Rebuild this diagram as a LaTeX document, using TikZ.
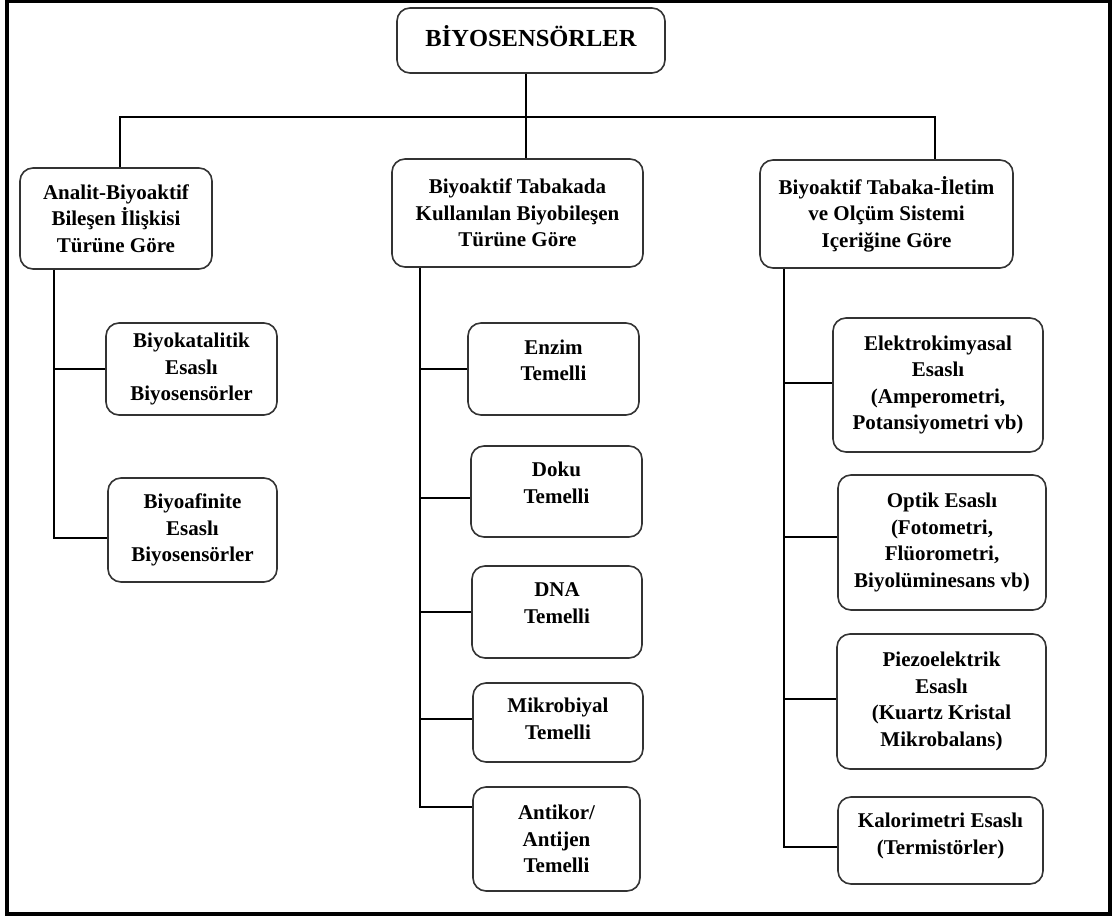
\documentclass[tikz,border=0pt]{standalone}
\usepackage{fontspec}
\setmainfont{Liberation Serif}
\usepackage{tikz}

\begin{document}
\begin{tikzpicture}[x=1pt,y=-1pt,
  kutu/.style={draw=black!80,line width=1.6pt,rounded corners=13pt,align=center,
    font=\fontsize{21}{26.5}\selectfont\bfseries},
  hat/.style={line width=1.5pt}]
\useasboundingbox (0,0) rectangle (1115,917);
\draw[line width=4pt] (6.5,1.5) rectangle (1110,914);

\node[kutu,minimum width=268pt,minimum height=65pt,text depth=9pt,
  font=\fontsize{24.5}{29}\selectfont\bfseries] (kok) at (531,40.5) {BİYOSENSÖRLER};

\node[kutu,minimum width=192pt,minimum height=101pt] (a) at (116,218.5)
  {Analit-Biyoaktif\\Bileşen İlişkisi\\Türüne Göre};
\node[kutu,minimum width=251pt,minimum height=108pt] (b) at (517.5,213)
  {Biyoaktif Tabakada\\Kullanılan Biyobileşen\\Türüne Göre};
\node[kutu,minimum width=253pt,minimum height=108pt] (c) at (886.5,214)
  {Biyoaktif Tabaka-İletim\\ve Olçüm Sistemi\\Içeriğine Göre};

\node[kutu,minimum width=171pt,minimum height=92pt] (a1) at (191.5,369)
  {Biyokatalitik\\Esaslı\\Biyosensörler};
\node[kutu,minimum width=169pt,minimum height=104pt] (a2) at (192.5,530)
  {Biyoafinite\\Esaslı\\Biyosensörler};

\node[kutu,minimum width=171pt,minimum height=92pt] (b1) at (553.5,369)
  {Enzim\\Temelli\\[-9pt]\mbox{}};
\node[kutu,minimum width=171pt,minimum height=91pt] (b2) at (556.5,491.5)
  {Doku\\Temelli\\[-9pt]\mbox{}};
\node[kutu,minimum width=170pt,minimum height=92pt] (b3) at (557,612)
  {DNA\\Temelli\\[-9pt]\mbox{}};
\node[kutu,minimum width=170pt,minimum height=79pt] (b4) at (558,722.5)
  {Mikrobiyal\\Temelli\\[-18.5pt]\mbox{}};
\node[kutu,minimum width=167pt,minimum height=104pt] (b5) at (556.5,839)
  {Antikor/\\Antijen\\Temelli};

\node[kutu,minimum width=210pt,minimum height=134pt] (c1) at (938,385)
  {Elektrokimyasal\\Esaslı\\(Amperometri,\\Potansiyometri vb)};
\node[kutu,minimum width=208pt,minimum height=135pt] (c2) at (942,542.5)
  {Optik Esaslı\\(Fotometri,\\Flüorometri,\\Biyolüminesans vb)};
\node[kutu,minimum width=209pt,minimum height=135pt] (c3) at (941.5,701.5)
  {Piezoelektrik\\Esaslı\\(Kuartz Kristal\\Mikrobalans)};
\node[kutu,minimum width=205pt,minimum height=87pt] (c4) at (940.5,840.5)
  {Kalorimetri Esaslı\\(Termistörler)\\[-12.5pt]\mbox{}};

\coordinate (bus) at (0,117);
\draw[hat] ([xshift=-5pt]kok.south) -- ([xshift=-5pt]kok.south |- b.north);
\draw[hat] ([xshift=4pt]a.north) |- ([xshift=48.5pt]c.north |- bus) -- ([xshift=48.5pt]c.north);

\coordinate (ta) at ([xshift=35pt]a.south west);
\draw[hat] (ta) |- (a1.west);
\draw[hat] (ta) |- ([yshift=-8pt]a2.west);

\coordinate (tb) at ([xshift=29pt]b.south west);
\draw[hat] (tb) |- (b1.west);
\draw[hat] (tb) |- ([yshift=-6.5pt]b2.west);
\draw[hat] (tb) |- (b3.west);
\draw[hat] (tb) |- ([yshift=3.5pt]b4.west);
\draw[hat] (tb) |- ([yshift=32pt]b5.west);

\coordinate (tc) at ([xshift=25pt]c.south west);
\draw[hat] (tc) |- ([yshift=2pt]c1.west);
\draw[hat] (tc) |- ([yshift=5.5pt]c2.west);
\draw[hat] (tc) |- ([yshift=2.5pt]c3.west);
\draw[hat] (tc) |- ([yshift=-6.5pt]c4.west);
\end{tikzpicture}
\end{document}
